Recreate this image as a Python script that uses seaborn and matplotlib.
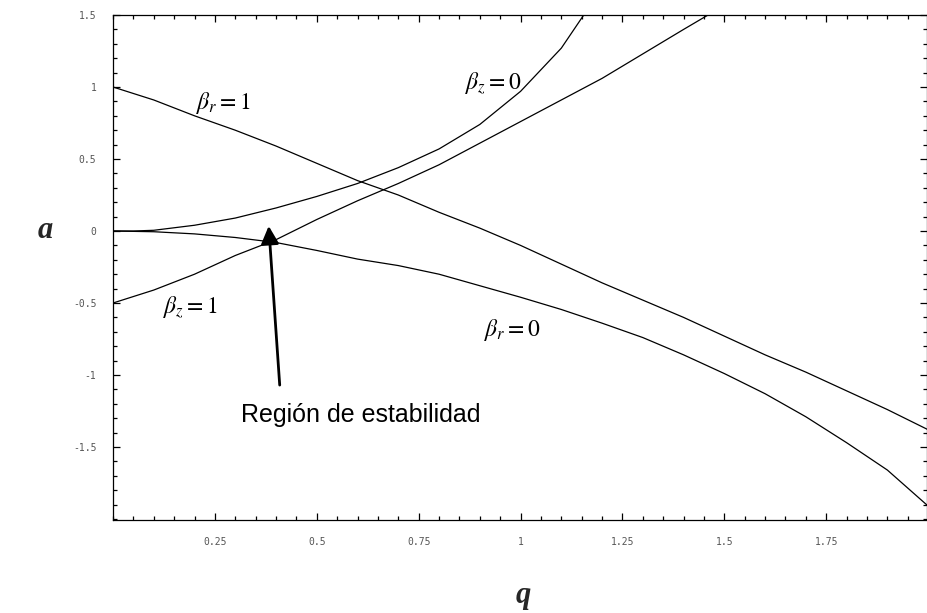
import numpy as np
import pandas as pd
import seaborn as sns
import matplotlib.pyplot as plt
from matplotlib.ticker import MultipleLocator, FixedLocator

sns.set_theme(style="ticks")
plt.rcParams["mathtext.fontset"] = "stix"

# Stability boundaries
q_br1 = [0.0, 0.1, 0.2, 0.3, 0.4, 0.5, 0.6, 0.7, 0.8, 0.9, 1.0, 1.1, 1.2, 1.3, 1.4, 1.5, 1.6, 1.7, 1.8, 1.9, 2.0]
a_br1 = [1.0, 0.91, 0.80, 0.70, 0.59, 0.47, 0.35, 0.25, 0.13, 0.02, -0.10, -0.23, -0.36, -0.48, -0.60, -0.73, -0.86, -0.98, -1.11, -1.24, -1.38]

q_bz0 = [0.0, 0.05, 0.1, 0.2, 0.3, 0.4, 0.5, 0.6, 0.7, 0.8, 0.9, 1.0, 1.1, 1.155]
a_bz0 = [0.0, 0.0, 0.005, 0.04, 0.09, 0.16, 0.24, 0.33, 0.44, 0.57, 0.74, 0.97, 1.27, 1.5]

q_bz1 = [0.0, 0.1, 0.2, 0.3, 0.4, 0.5, 0.6, 0.7, 0.8, 0.9, 1.0, 1.1, 1.2, 1.3, 1.4, 1.46]
a_bz1 = [-0.5, -0.41, -0.30, -0.17, -0.06, 0.08, 0.21, 0.33, 0.46, 0.61, 0.76, 0.91, 1.06, 1.23, 1.40, 1.5]

q_br0 = [0.0, 0.1, 0.2, 0.3, 0.4, 0.5, 0.6, 0.7, 0.8, 0.9, 1.0, 1.1, 1.2, 1.3, 1.4, 1.5, 1.6, 1.7, 1.8, 1.9, 2.0]
a_br0 = [0.0, -0.005, -0.02, -0.045, -0.08, -0.135, -0.195, -0.24, -0.30, -0.38, -0.46, -0.545, -0.64, -0.74, -0.86, -0.99, -1.13, -1.29, -1.47, -1.66, -1.91]

x_ticks = [0.25, 0.5, 0.75, 1.0, 1.25, 1.5, 1.75]
x_tick_labels = ["0.25", "0.5", "0.75", "1", "1.25", "1.5", "1.75"]
y_ticks = [-1.5, -1.0, -0.5, 0.0, 0.5, 1.0, 1.5]
y_tick_labels = ["-1.5", "-1", "-0.5", "0", "0.5", "1", "1.5"]

fig = plt.figure(figsize=(9.28, 6.13), dpi=100)
ax = fig.add_axes([0.1218, 0.1517, 0.877, 0.8238])

for qs, As in [(q_br1, a_br1), (q_bz0, a_bz0), (q_bz1, a_bz1), (q_br0, a_br0)]:
    sns.lineplot(x=qs, y=As, ax=ax, color="black", lw=0.9, estimator=None, sort=False)

ax.set_xlim(0.0, 1.997)
ax.set_ylim(-2.007, 1.5)

ax.xaxis.set_major_locator(FixedLocator(x_ticks))
ax.set_xticklabels(x_tick_labels)
ax.xaxis.set_minor_locator(MultipleLocator(0.05))
ax.yaxis.set_major_locator(FixedLocator(y_ticks))
ax.set_yticklabels(y_tick_labels)
ax.yaxis.set_minor_locator(MultipleLocator(0.1))

ax.tick_params(which="both", direction="in", top=True, right=True, color="black", width=0.9)
ax.tick_params(which="major", length=5)
ax.tick_params(which="minor", length=3)
ax.tick_params(axis="x", pad=12)
ax.tick_params(axis="y", pad=12)
for lab in ax.get_xticklabels() + ax.get_yticklabels():
    lab.set_family("DejaVu Sans Mono")
    lab.set_fontsize(7)
    lab.set_color("#555555")
for sp in ax.spines.values():
    sp.set_linewidth(0.9)
    sp.set_color("black")

# curve labels
lab_kw = dict(fontsize=17, ha="center", va="center", color="black")
ax.text(0.27, 0.89, r"$\beta_r = 1$", **lab_kw)
ax.text(0.934, 1.03, r"$\beta_z = 0$", **lab_kw)
ax.text(0.19, -0.53, r"$\beta_z = 1$", **lab_kw)
ax.text(0.98, -0.69, r"$\beta_r = 0$", **lab_kw)

ax.annotate("", xy=(0.382, 0.035), xytext=(0.409, -1.07),
            arrowprops=dict(arrowstyle="-|>,head_length=0.4,head_width=0.2",
                            lw=2, color="black", mutation_scale=27,
                            shrinkA=0, shrinkB=0))
ax.text(0.608, -1.28, "Región de estabilidad", fontsize=18,
        family="Liberation Sans", ha="center", va="center", color="black")

fig.text(45 / 928, 1 - 230 / 613, "a", fontsize=22, family="Liberation Serif",
         style="italic", weight="bold", ha="center", va="center")
fig.text(523 / 928, 1 - 595 / 613, "q", fontsize=22, family="Liberation Serif",
         style="italic", weight="bold", ha="center", va="center")

fig.savefig("out.png", dpi=100)
